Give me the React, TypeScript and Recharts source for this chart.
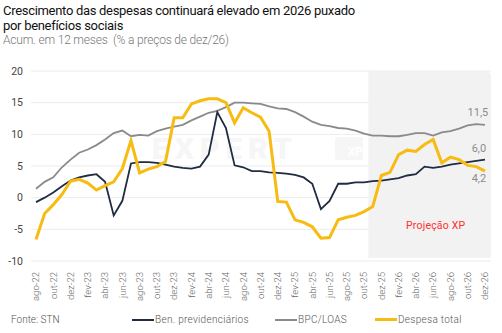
import { CartesianGrid, LabelList, Line, LineChart, ReferenceArea, XAxis, YAxis } from "recharts";

const months = [
  "ago-22", "set-22", "out-22", "nov-22", "dez-22",
  "jan-23", "fev-23", "mar-23", "abr-23", "mai-23", "jun-23", "jul-23", "ago-23", "set-23", "out-23", "nov-23", "dez-23",
  "jan-24", "fev-24", "mar-24", "abr-24", "mai-24", "jun-24", "jul-24", "ago-24", "set-24", "out-24", "nov-24", "dez-24",
  "jan-25", "fev-25", "mar-25", "abr-25", "mai-25", "jun-25", "jul-25", "ago-25", "set-25", "out-25", "nov-25", "dez-25",
  "jan-26", "fev-26", "mar-26", "abr-26", "mai-26", "jun-26", "jul-26", "ago-26", "set-26", "out-26", "nov-26", "dez-26",
];

const benPrevidenciarios = [
  -0.7, 0.0, 0.8, 1.8, 2.7, 3.2, 3.5, 3.7, 2.5, -2.8, -0.5, 5.4, 5.6, 5.6, 5.5, 5.2, 4.9,
  4.7, 4.6, 4.9, 6.8, 13.5, 11.0, 5.1, 4.8, 4.2, 4.2, 4.0, 3.9, 3.8, 3.6, 3.2, 2.2, -1.8,
  -0.5, 2.2, 2.2, 2.4, 2.4, 2.6, 2.7, 2.9, 3.1, 3.5, 3.7, 4.9, 4.7, 4.9, 5.2, 5.4, 5.6, 5.8, 6.0,
];

const bpcLoas = [
  1.4, 2.5, 3.2, 4.8, 6.0, 7.1, 7.6, 8.3, 9.2, 10.2, 10.6, 9.7, 9.9, 9.8, 10.5, 10.9, 11.2,
  11.5, 12.2, 12.8, 13.4, 13.7, 14.3, 15.0, 15.0, 14.9, 14.8, 14.4, 14.1, 14.0, 13.5, 12.8, 12.0,
  11.5, 11.3, 11.0, 10.9, 10.6, 10.1, 9.8, 9.8, 9.7, 9.7, 9.9, 10.2, 10.2, 9.8, 10.3, 10.5, 10.9,
  11.4, 11.6, 11.5,
];

const despesaTotal = [
  -6.6, -2.5, -1.1, 0.5, 2.6, 2.9, 2.3, 1.2, 1.9, 2.5, 4.6, 9.0, 3.9, 4.5, 4.9, 5.7, 12.6,
  12.6, 14.8, 15.3, 15.6, 15.6, 15.0, 11.8, 14.2, 13.4, 12.7, 10.5, -0.6, -0.7, -3.5, -3.9, -4.6,
  -6.4, -6.3, -3.5, -3.1, -2.8, -2.2, -1.4, 3.5, 4.0, 6.8, 7.5, 7.3, 8.4, 9.2, 5.5, 6.4, 6.0,
  5.1, 4.9, 4.2,
];

const yTicks = [-10, -5, 0, 5, 10, 15, 20];
const xTicks = months.map((_, i) => i).filter((i) => i % 2 === 0);
const projectionStart = 38.5;
const lastIndex = months.length - 1;

const data = months.map((label, i) => ({
  i,
  label,
  ben: benPrevidenciarios[i],
  bpc: bpcLoas[i],
  total: despesaTotal[i],
}));

const FONT = "Roboto, 'Noto Sans', sans-serif";

function MonthTick(props: any) {
  const { x, y, payload } = props;
  return (
    <text
      x={x}
      y={y}
      transform={`rotate(-90 ${x} ${y})`}
      textAnchor="end"
      dy="0.35em"
      fontSize={9.5}
      fill="#666"
      fontFamily={FONT}
      fontWeight={300}
    >
      {months[payload.value]}
    </text>
  );
}

function endLabel(dx: number, dy: number) {
  return (props: any) => {
    const { x, y, value, index } = props;
    if (index !== lastIndex) return null;
    return (
      <text x={x + dx} y={y + dy} textAnchor="middle" fontSize={11} fill="#8c8c8c" fontFamily={FONT}>
        {Number(value).toFixed(1).replace(".", ",")}
      </text>
    );
  };
}

function LegendItem({ left, color, thick, text }: { left: number; color: string; thick: number; text: string }) {
  return (
    <div style={{ position: "absolute", left, top: 314, display: "flex", alignItems: "center" }}>
      <div style={{ width: 22, height: thick, background: color }} />
      <span style={{ fontSize: 10, color: "#555", marginLeft: 1, letterSpacing: 0.3, fontWeight: 300 }}>{text}</span>
    </div>
  );
}

export default function App() {
  return (
    <div
      style={{
        position: "absolute",
        left: 0,
        top: 0,
        width: 502,
        height: 333,
        background: "#fff",
        fontFamily: FONT,
        overflow: "hidden",
      }}
    >
      <div style={{ position: "absolute", left: 3, top: 3, fontSize: 13, lineHeight: "15px", color: "#111", letterSpacing: -0.3 }}>
        Crescimento das despesas continuará elevado em 2026 puxado
        <br />
        por benefícios sociais
      </div>
      <div style={{ position: "absolute", left: 3, top: 33, fontSize: 12, color: "#777", letterSpacing: -0.2, fontWeight: 300 }}>
        Acum. em 12 meses&nbsp; (% a preços de dez/26)
      </div>

      <div
        style={{
          position: "absolute",
          left: 152,
          top: 131,
          fontSize: 30,
          fontWeight: 900,
          color: "#f6f6f6",
          letterSpacing: 6,
        }}
      >
        EXPERT
      </div>
      <div
        style={{
          position: "absolute",
          left: 335,
          top: 137,
          width: 28,
          height: 23,
          background: "#f6f6f6",
          borderRadius: 2,
          color: "#fff",
          fontSize: 12,
          fontWeight: 700,
          textAlign: "right",
          lineHeight: "30px",
        }}
      >
        XP
      </div>

      <div style={{ position: "absolute", left: 0, top: 0 }}>
        <LineChart width={502} height={333} data={data} margin={{ top: 71, right: 11, bottom: 32, left: 0 }}>
          <ReferenceArea
            x1={projectionStart}
            x2={52.7}
            y1={-9.5}
            y2={20}
            fill="#f2f2f2"
            fillOpacity={1}
            stroke="none"
            radius={[0, 5, 0, 0]}
            ifOverflow="visible"
          />
          <CartesianGrid vertical={false} stroke="#ececec" />
          <XAxis
            dataKey="i"
            type="number"
            domain={[-0.58, 52.7]}
            allowDataOverflow
            ticks={xTicks}
            interval={0}
            tick={<MonthTick />}
            axisLine={false}
            tickLine={false}
            tickSize={6}
            tickMargin={5}
            height={40}
          />
          <YAxis
            type="number"
            domain={[-10, 20]}
            ticks={yTicks}
            width={31}
            axisLine={false}
            tickLine={false}
            tick={{ fontSize: 10.5, fill: "#444", fontFamily: FONT }}
          />
          <Line
            dataKey="bpc"
            stroke="#8a8a8a"
            strokeWidth={1.8}
            dot={false}
            isAnimationActive={false}
          >
            <LabelList dataKey="bpc" content={endLabel(-7, -9)} />
          </Line>
          <Line
            dataKey="ben"
            stroke="#1f2c42"
            strokeWidth={1.8}
            dot={false}
            isAnimationActive={false}
          >
            <LabelList dataKey="ben" content={endLabel(-6, -8)} />
          </Line>
          <Line
            dataKey="total"
            stroke="#f7bb12"
            strokeWidth={3}
            dot={false}
            isAnimationActive={false}
          >
            <LabelList dataKey="total" content={endLabel(-6, 11)} />
          </Line>
        </LineChart>
      </div>

      <div style={{ position: "absolute", left: 406, top: 219, fontSize: 10.5, color: "#ff3030", letterSpacing: 0.2 }}>
        Projeção XP
      </div>

      <div style={{ position: "absolute", left: 11, top: 314, fontSize: 10, color: "#555", fontWeight: 300 }}>Fonte: STN</div>
      <LegendItem left={132} color="#1f2c42" thick={2} text="Ben. previdenciários" />
      <LegendItem left={275} color="#8a8a8a" thick={2} text="BPC/LOAS" />
      <LegendItem left={375} color="#f7bb12" thick={3} text="Despesa total" />
    </div>
  );
}
